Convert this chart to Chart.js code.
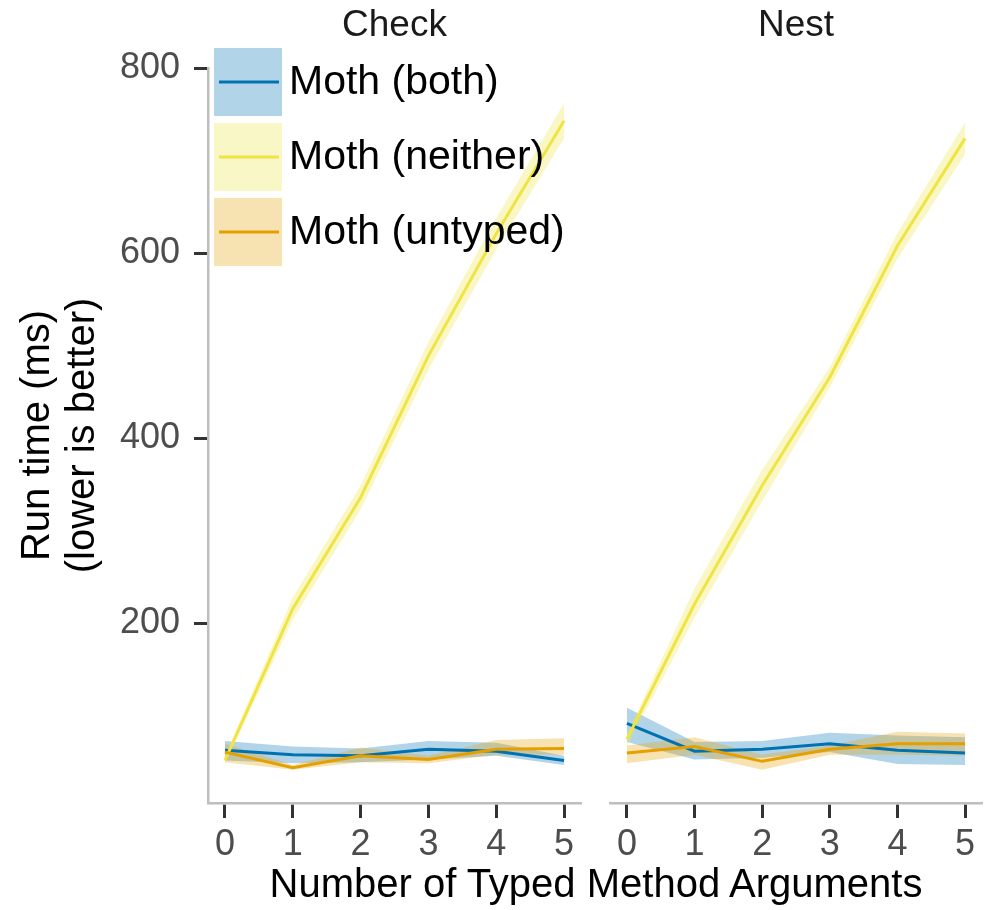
<!DOCTYPE html>
<html>
<head>
<meta charset="utf-8">
<title>Run time by typed method arguments</title>
<script src="https://cdn.jsdelivr.net/npm/chart.js@4.4.1/dist/chart.umd.min.js"></script>
<style>
    html, body { margin: 0; padding: 0; background: #fff; }
    #wrap { position: relative; width: 995px; height: 910px; }
    #checkChart { position: absolute; left: 0; top: 0; }
    #nestChart { position: absolute; left: 595px; top: 0; }
    #xTitle {
        position: absolute; left: 196px; width: 800px; top: 863px;
        text-align: center; white-space: nowrap; color: #000;
        font: 40px/40px 'Liberation Sans', Arial, sans-serif;
    }
</style>
</head>
<body>
<div id="wrap">
    <canvas id="checkChart" width="595" height="910"></canvas>
    <canvas id="nestChart" width="400" height="910"></canvas>
    <div id="xTitle">Number of Typed Method Arguments</div>
</div>
<script>
var xValues = [0, 1, 2, 3, 4, 5];
var yTicks = [200, 400, 600, 800];
var panelNames = ["Check", "Nest"];
var seriesNames = ["Moth (both)", "Moth (neither)", "Moth (untyped)"];
var lineColors = ["#0072B2", "#F0E442", "#E69F00"];
var bandColors = ["rgba(0,114,178,0.3)", "rgba(240,228,66,0.3)", "rgba(230,159,0,0.3)"];

// Check panel (mean, lower, upper)
var checkBoth = [63, 58, 57, 64, 62, 52];
var checkBothLo = [52, 49, 50, 53, 57, 47];
var checkBothHi = [73, 67, 65, 73, 71, 57];
var checkNeither = [52, 216, 336, 489, 621, 743];
var checkNeitherLo = [48, 204, 323, 474, 604, 724];
var checkNeitherHi = [56, 228, 349, 504, 638, 762];
var checkUntyped = [61, 44, 57, 53, 64, 65];
var checkUntypedLo = [50, 42, 50, 49, 58, 58];
var checkUntypedHi = [70, 47, 66, 57, 74, 76];

// Nest panel
var nestBoth = [92, 62, 64, 70, 63, 60];
var nestBothLo = [72, 53, 55, 61, 48, 47];
var nestBothHi = [109, 72, 73, 82, 79, 77];
var nestNeither = [75, 221, 349, 466, 608, 724];
var nestNeitherLo = [67, 206, 332, 455, 594, 707];
var nestNeitherHi = [80, 238, 366, 477, 622, 741];
var nestUntyped = [60, 67, 51, 64, 70, 70];
var nestUntypedLo = [49, 58, 42, 58, 58, 57];
var nestUntypedHi = [68, 77, 58, 68, 83, 81];

Chart.defaults.font.family = "'Liberation Sans', Arial, sans-serif";

function pts(arr) {
    return arr.map(function (v, i) { return { x: xValues[i], y: v }; });
}

function buildDatasets(means, lows, highs) {
    var ds = [];
    // first dataset is drawn on top, so untyped goes first
    for (var i = means.length - 1; i >= 0; i--) {
        ds.push({ label: seriesNames[i], data: pts(means[i]), borderColor: lineColors[i], borderWidth: 3, fill: false });
    }
    for (var j = means.length - 1; j >= 0; j--) {
        ds.push({ data: pts(lows[j]), borderColor: 'transparent', borderWidth: 0, fill: false });
        ds.push({ data: pts(highs[j]), borderColor: 'transparent', borderWidth: 0, backgroundColor: bandColors[j], fill: '-1' });
    }
    return ds;
}

function xScale() {
    return {
        type: 'linear',
        min: -0.25,
        max: 5.25,
        afterBuildTicks: function (s) { s.ticks = xValues.map(function (v) { return { value: v }; }); },
        afterFit: function (s) { s.height = 107; },
        grid: { drawOnChartArea: false, tickLength: 15, tickWidth: 3, tickColor: '#333333' },
        border: { color: '#BEBEBE', width: 2.5 },
        ticks: { padding: 5, color: '#4D4D4D', font: { size: 36 }, maxRotation: 0, autoSkip: false }
    };
}

function panelTitle(text) {
    return {
        display: true, text: text, fullSize: false, color: '#1A1A1A',
        font: { size: 37, weight: 'normal' },
        padding: { top: 4, bottom: 19.6 }
    };
}

var insideLegend = {
    id: 'insideLegend',
    afterDatasetsDraw: function (chart) {
        var ctx = chart.ctx;
        var left = chart.chartArea.left + 6;
        var top = chart.chartArea.top - 20;
        ctx.save();
        ctx.font = "41px 'Liberation Sans', Arial, sans-serif";
        ctx.textBaseline = 'middle';
        ctx.textAlign = 'left';
        seriesNames.forEach(function (name, i) {
            var y0 = top + i * 75;
            ctx.fillStyle = bandColors[i];
            ctx.fillRect(left, y0, 68, 68);
            ctx.strokeStyle = lineColors[i];
            ctx.lineWidth = 3;
            ctx.beginPath();
            ctx.moveTo(left + 5, y0 + 34);
            ctx.lineTo(left + 65, y0 + 34);
            ctx.stroke();
            ctx.fillStyle = '#000';
            ctx.fillText(name, left + 75, y0 + 35);
        });
        ctx.restore();
    }
};

new Chart("checkChart", {
    type: 'line',
    data: {
        datasets: buildDatasets(
            [checkBoth, checkNeither, checkUntyped],
            [checkBothLo, checkNeitherLo, checkUntypedLo],
            [checkBothHi, checkNeitherHi, checkUntypedHi])
    },
    options: {
        animation: false,
        responsive: false,
        layout: { padding: { left: 0, right: 14, top: 0, bottom: 0 } },
        elements: { point: { radius: 0 }, line: { tension: 0 } },
        plugins: {
            legend: { display: false },
            tooltip: { enabled: false },
            filler: { drawTime: 'beforeDatasetsDraw' },
            title: panelTitle(panelNames[0])
        },
        scales: {
            x: xScale(),
            y: {
                min: 6,
                max: 800,
                afterBuildTicks: function (s) { s.ticks = yTicks.map(function (v) { return { value: v }; }); },
                afterFit: function (s) { s.width = 208; },
                grid: { drawOnChartArea: false, tickLength: 14, tickWidth: 3, tickColor: '#333333' },
                border: { color: '#BEBEBE', width: 2.5 },
                ticks: { padding: 14, color: '#4D4D4D', font: { size: 36 } },
                title: {
                    display: true,
                    text: ['Run time (ms)', '(lower is better)'],
                    color: '#000',
                    font: { size: 40, lineHeight: 1.13 },
                    padding: { top: 15, bottom: 0 }
                }
            }
        }
    },
    plugins: [insideLegend]
});

new Chart("nestChart", {
    type: 'line',
    data: {
        datasets: buildDatasets(
            [nestBoth, nestNeither, nestUntyped],
            [nestBothLo, nestNeitherLo, nestUntypedLo],
            [nestBothHi, nestNeitherHi, nestUntypedHi])
    },
    options: {
        animation: false,
        responsive: false,
        layout: { padding: { left: 15, right: 13, top: 0, bottom: 0 } },
        elements: { point: { radius: 0 }, line: { tension: 0 } },
        plugins: {
            legend: { display: false },
            tooltip: { enabled: false },
            filler: { drawTime: 'beforeDatasetsDraw' },
            title: panelTitle(panelNames[1])
        },
        scales: {
            x: xScale(),
            y: { display: false, min: 6, max: 800 }
        }
    }
});
</script>
</body>
</html>
